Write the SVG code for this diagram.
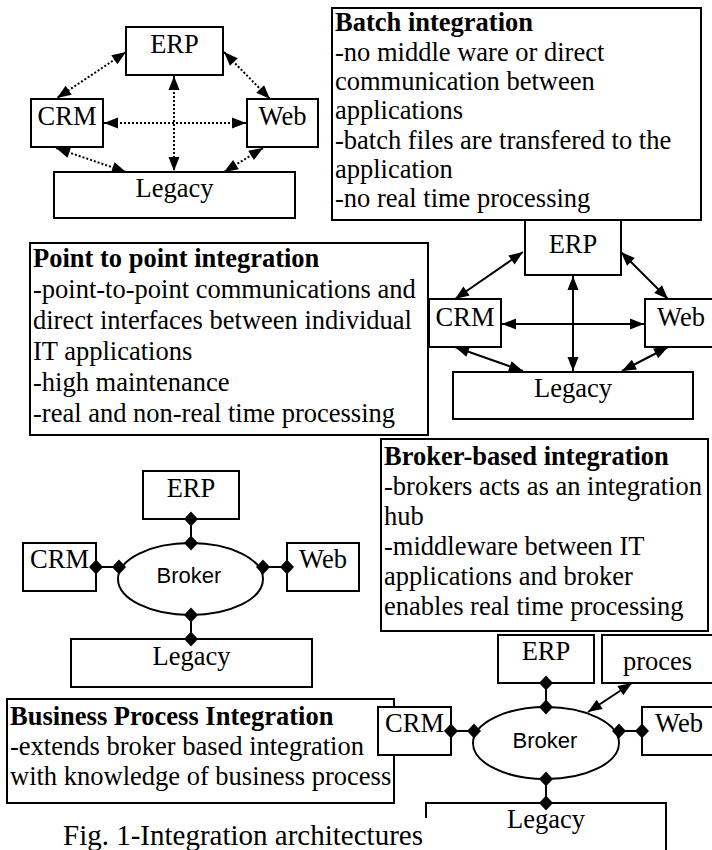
<svg xmlns="http://www.w3.org/2000/svg" width="712" height="850" viewBox="0 0 712 850">
<style>
.box{fill:#fff;stroke:#000;stroke-width:2}
.t{font-family:"Liberation Serif","Times New Roman",serif;font-size:26.5px;fill:#000}
.b{font-weight:bold}
.s{font-family:"Liberation Sans",Arial,sans-serif;font-size:22px;fill:#000}
.c{text-anchor:middle}
.ln{stroke:#000;stroke-width:2;fill:none}
.dot{stroke-dasharray:2 2}
.arr{marker-start:url(#arr);marker-end:url(#arr)}
.dia{marker-start:url(#dia);marker-end:url(#dia)}
</style>
<defs>
<marker id="arr" markerUnits="userSpaceOnUse" markerWidth="16" markerHeight="14" refX="14" refY="7" orient="auto-start-reverse" overflow="visible">
<path d="M0,1.5 L14,7 L0,12.5 Z" fill="#000"/>
</marker>
<marker id="dia" markerUnits="userSpaceOnUse" markerWidth="16" markerHeight="16" refX="7" refY="8" overflow="visible">
<path d="M0,8 L7,0.5 L14,8 L7,15.5 Z" fill="#000"/>
</marker>
</defs>
<rect width="712" height="850" fill="#fff"/>

<g id="batch-erp"><rect class="box" x="126" y="27" width="97" height="48"/><text class="t c" x="174.5" y="53">ERP</text></g>
<g id="batch-crm"><rect class="box" x="31" y="99" width="72" height="48"/><text class="t c" x="67" y="125">CRM</text></g>
<g id="batch-web"><rect class="box" x="247" y="99" width="71" height="48"/><text class="t c" x="282.5" y="125">Web</text></g>
<g id="batch-legacy"><rect class="box" x="54" y="172" width="241" height="46"/><text class="t c" x="174.5" y="197">Legacy</text></g>

<g id="p2p-erp"><rect class="box" x="525" y="214" width="96" height="61"/><text class="t c" x="573" y="253">ERP</text></g>

<g id="batch-note"><rect class="box" x="332" y="8" width="369" height="212"/>
<text class="t" x="335"><tspan class="b" x="335" y="31">Batch integration</tspan><tspan x="335" y="60.5">-no middle ware or direct</tspan><tspan x="335" y="90">communication between</tspan><tspan x="335" y="119">applications</tspan><tspan x="335" y="148.5">-batch files are transfered to the</tspan><tspan x="335" y="178">application</tspan><tspan x="335" y="207">-no real time processing</tspan></text></g>

<g id="p2p-crm"><rect class="box" x="429" y="299" width="72" height="48"/><text class="t c" x="465" y="326">CRM</text></g>
<g id="p2p-web"><rect class="box" x="645" y="299" width="80" height="48"/><text class="t c" x="681" y="326">Web</text></g>
<g id="p2p-legacy"><rect class="box" x="453" y="372" width="240" height="47"/><text class="t c" x="573" y="397">Legacy</text></g>

<g id="p2p-note"><rect class="box" x="30" y="243" width="398" height="192"/>
<text class="t"><tspan class="b" x="33" y="267">Point to point integration</tspan><tspan x="33" y="298">-point-to-point communications and</tspan><tspan x="33" y="329">direct interfaces between individual</tspan><tspan x="33" y="360">IT applications</tspan><tspan x="33" y="391">-high maintenance</tspan><tspan x="33" y="422">-real and non-real time processing</tspan></text></g>

<g id="broker-note"><rect class="box" x="381" y="439" width="327" height="192"/>
<text class="t"><tspan class="b" x="384" y="465">Broker-based integration</tspan><tspan x="384" y="495">-brokers acts as an integration</tspan><tspan x="384" y="525">hub</tspan><tspan x="384" y="555">-middleware between IT</tspan><tspan x="384" y="585">applications and broker</tspan><tspan x="384" y="615">enables real time processing</tspan></text></g>

<g id="bk-erp"><rect class="box" x="143" y="471" width="96" height="48"/><text class="t c" x="191" y="497">ERP</text></g>
<g id="bk-crm"><rect class="box" x="23" y="543" width="73" height="48"/><text class="t c" x="59.5" y="568">CRM</text></g>
<g id="bk-web"><rect class="box" x="287" y="543" width="72" height="48"/><text class="t c" x="323" y="568">Web</text></g>
<g id="bk-broker"><ellipse class="box" cx="190.5" cy="579" rx="72.5" ry="36"/><text class="s c" x="189" y="583">Broker</text></g>
<g id="bk-legacy"><rect class="box" x="71" y="639" width="241" height="48"/><text class="t c" x="191.5" y="665">Legacy</text></g>

<g id="bpi-note"><rect class="box" x="7" y="699" width="387" height="104"/>
<text class="t"><tspan class="b" x="10" y="725">Business Process Integration</tspan><tspan x="10" y="755">-extends broker based integration</tspan><tspan x="10" y="785">with knowledge of business process</tspan></text></g>

<g id="bpi-erp"><rect class="box" x="498" y="635" width="96" height="48"/><text class="t c" x="546" y="660">ERP</text></g>
<g id="bpi-proces"><rect class="box" x="602" y="635" width="120" height="48"/><text class="t" x="623" y="670">proces</text></g>
<g id="bpi-crm"><rect class="box" x="378" y="707" width="73" height="48"/><text class="t c" x="414.5" y="732">CRM</text></g>
<g id="bpi-web"><rect class="box" x="642" y="707" width="80" height="48"/><text class="t c" x="679" y="732">Web</text></g>
<g id="bpi-broker"><ellipse class="box" cx="546" cy="743" rx="73" ry="36"/><text class="s c" x="545" y="748">Broker</text></g>
<g id="bpi-legacy"><rect class="box" x="426" y="803" width="240" height="60"/><text class="t c" x="546" y="828">Legacy</text></g>

<g id="connectors">
<path class="ln dot arr" d="M126,52 L57,98"/>
<path class="ln dot arr" d="M224,52 L270,99"/>
<path class="ln dot arr" d="M174,76 L174,171"/>
<path class="ln dot arr" d="M104,123 L246,123"/>
<path class="ln dot arr" d="M56,148 L126,172"/>
<path class="ln dot arr" d="M263,148 L224,172"/>
<path class="ln arr" d="M523,252 L455,299"/>
<path class="ln arr" d="M621,252 L668,299"/>
<path class="ln arr" d="M573,276 L573,371"/>
<path class="ln arr" d="M502,324 L644,324"/>
<path class="ln arr" d="M455,347 L523,371"/>
<path class="ln arr" d="M668,347 L622,371"/>
<path class="ln dia" d="M191,519 L191,543"/>
<path class="ln dia" d="M96,567 L119,567"/>
<path class="ln dia" d="M263,567 L287,567"/>
<path class="ln dia" d="M191,615 L191,639"/>
<path class="ln dia" d="M546,683 L546,707"/>
<path class="ln dia" d="M451,731 L474,731"/>
<path class="ln dia" d="M619,731 L642,731"/>
<path class="ln dia" d="M546,779 L546,803"/>
<path class="ln arr" d="M588,712 L632,683"/>
</g>

<g id="caption"><rect x="55" y="818" width="374" height="40" fill="#fff"/><text class="t" x="63" y="845" style="font-size:29px">Fig. 1-Integration architectures</text></g>
</svg>
